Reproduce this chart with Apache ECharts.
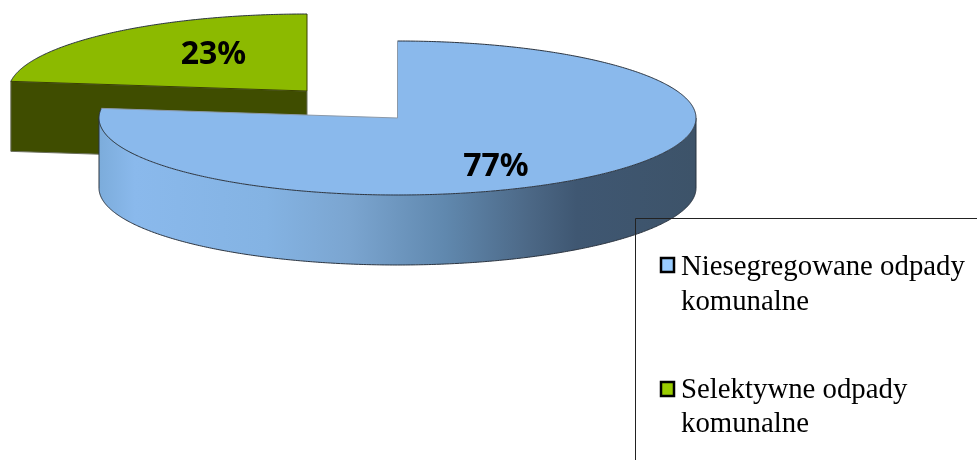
<!DOCTYPE html>
<html><head><meta charset="utf-8">
<style>html,body{margin:0;padding:0;background:#fff}#c{width:977px;height:460px}</style>
<script src="https://cdn.jsdelivr.net/npm/echarts@6/dist/echarts.min.js"></script>
</head><body><div id="c"></div>
<script>
const categories = ['Niesegregowane odpady\nkomunalne', 'Selektywne odpady\nkomunalne'];
const values = [77, 23];
const topColors = ['#8AB9EC', '#8CBA00'];
const legendColors = ['#99CCFF', '#99CC00'];

const RX = 298.5, RY = 77, DEPTH = 70;
const centers = [[397.5, 118], [307, 91]];
const labelPos = [[496, 167], [213.5, 55]];
const legendRows = [[660, 257, 681, 249.5, 35], [660, 381, 681, 374, 33.5]];
const total = values.reduce((a, b) => a + b, 0);

function pt(c, deg, dz) {
  const a = deg * Math.PI / 180;
  return [c[0] + RX * Math.sin(a), c[1] - RY * Math.cos(a) + (dz || 0)];
}
function arc(c, from, to, dz) {
  const out = [], n = Math.max(2, Math.ceil(Math.abs(to - from) * 2));
  for (let i = 0; i <= n; i++) out.push(pt(c, from + (to - from) * i / n, dz));
  return out;
}
const edge = '#2b3440';
const wallGrad = new echarts.graphic.LinearGradient(0, 0, 1, 0, [
  {offset: 0, color: '#7CACDB'}, {offset: 0.06, color: '#8AB9EC'}, {offset: 0.28, color: '#84B3E3'},
  {offset: 0.42, color: '#7BA5D0'}, {offset: 0.58, color: '#6088AE'}, {offset: 0.72, color: '#4C6886'},
  {offset: 0.8, color: '#3F5772'}, {offset: 1, color: '#3D5369'}]);

function renderItem(params, api) {
  const i = params.dataIndex, v = api.value(0);
  let start = 0;
  for (let k = 0; k < i; k++) start += values[k];
  const a0 = start / total * 360, a1 = (start + v) / total * 360;
  const c = centers[i], kids = [];
  const z2 = i === 0 ? 20 : 5;
  if (i === 0) {
    const lo = arc(c, 90, 270, DEPTH), hi = arc(c, 270, 90, 0);
    kids.push({type: 'polygon', z2, shape: {points: lo.concat(hi)}, style: {fill: wallGrad, stroke: null}});
    kids.push({type: 'polyline', z2, shape: {points: lo}, style: {stroke: edge, lineWidth: 1, fill: null}});
    kids.push({type: 'polyline', z2, shape: {points: [pt(c, 90), pt(c, 90, DEPTH)]}, style: {stroke: edge, lineWidth: 1, fill: null}});
    kids.push({type: 'polyline', z2, shape: {points: [pt(c, 270), pt(c, 270, DEPTH)]}, style: {stroke: edge, lineWidth: 1, fill: null}});
  } else {
    const p = pt(c, a0), d = [p, c, [c[0], c[1] + DEPTH], [p[0], p[1] + DEPTH]];
    kids.push({type: 'polygon', z2, shape: {points: d}, style: {fill: '#3F4D00', stroke: '#6b6f5c', lineWidth: 1}});
  }
  const rim = arc(c, a0, a1, 0);
  kids.push({type: 'polygon', z2: z2 + 1, shape: {points: rim.concat([c])}, style: {fill: topColors[i], stroke: null}});
  kids.push({type: 'polyline', z2: z2 + 1, shape: {points: rim}, style: {stroke: edge, lineWidth: 1, fill: null}});
  kids.push({type: 'polyline', z2: z2 + 1, shape: {points: [rim[rim.length - 1], c, rim[0]]},
    style: {stroke: i === 0 ? '#8c99a8' : '#3a4200', lineWidth: 1, fill: null}});
  kids.push({type: 'text', z2: 40, x: labelPos[i][0], y: labelPos[i][1],
    style: {text: v + '%', fill: '#000', font: 'bold 32px "Noto Sans"', align: 'center', verticalAlign: 'middle'}});
  return {type: 'group', children: kids};
}

const legendGraphic = [
  {type: 'polyline', shape: {points: [[977, 218.5], [635.5, 218.5], [635.5, 460]]},
   style: {stroke: '#222', lineWidth: 1, fill: null}, z: 10}
];
categories.forEach((name, i) => {
  const r = legendRows[i];
  legendGraphic.push({type: 'rect', shape: {x: r[0] + 1, y: r[1] + 1, width: 13, height: 14},
    style: {fill: legendColors[i], stroke: '#000', lineWidth: 2.5}, z: 10});
  legendGraphic.push({type: 'text', x: r[2], y: r[3],
    style: {text: name, fill: '#000', font: '28.8px "Liberation Serif"', lineHeight: r[4]}, z: 10});
});

const chart = echarts.init(document.getElementById('c'), null, {renderer: 'canvas'});
chart.setOption({
  animation: false,
  backgroundColor: '#fff',
  graphic: legendGraphic,
  series: [{
    type: 'custom', coordinateSystem: 'none', renderItem,
    data: values.map((v, i) => ({name: categories[i], value: [v]})),
    z: 1
  }]
});
</script></body></html>
